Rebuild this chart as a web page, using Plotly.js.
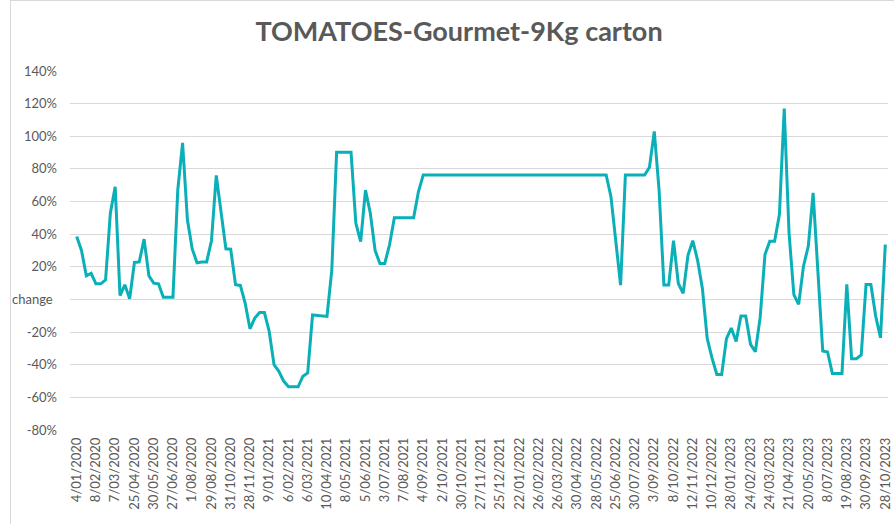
<!DOCTYPE html>
<html>
<head>
<meta charset="utf-8">
<script src="https://cdn.plot.ly/plotly-3.0.1.min.js"></script>
<style>
  html, body { margin: 0; padding: 0; background: #fff; overflow: hidden; }
  #chart { position: absolute; left: 0; top: 0; width: 894px; height: 524px; }
  #frame { position: absolute; left: 10px; top: 0px; width: 1000px; height: 1000px;
           border-left: 1px solid #d9d9d9; border-top: 1px solid #d9d9d9; pointer-events: none; }
</style>
</head>
<body>
<div id="chart"></div>
<div id="frame"></div>
<script>
// Tick labels of the category (date) axis: every 4th weekly observation
const dateLabels = [
  "4/01/2020","8/02/2020","7/03/2020","25/04/2020","30/05/2020","27/06/2020","1/08/2020",
  "29/08/2020","31/10/2020","28/11/2020","9/01/2021","6/02/2021","6/03/2021","10/04/2021",
  "8/05/2021","5/06/2021","3/07/2021","7/08/2021","4/09/2021","2/10/2021","30/10/2021",
  "27/11/2021","25/12/2021","22/01/2022","26/02/2022","26/03/2022","30/04/2022","28/05/2022",
  "25/06/2022","30/07/2022","3/09/2022","8/10/2022","12/11/2022","10/12/2022","28/01/2023",
  "24/02/2023","24/03/2023","21/04/2023","20/05/2023","8/07/2023","19/08/2023","30/09/2023",
  "28/10/2023"
];

// Weekly change values (%)
const changeValues = [
  38.6, 30, 14.5, 16, 9.6, 9.6, 12, 53, 69, 2.4,
  9, 0.4, 22.7, 23, 37, 14.5, 10, 9.6, 1.4, 1.4,
  1.4, 67, 96, 49, 31, 22.5, 23, 23, 36, 76,
  53, 31, 30.8, 9, 8.6, -2.2, -18, -11.4, -8, -8,
  -19.6, -40, -44, -50, -53.5, -53.5, -53.5, -47, -45, -9.5,
  -9.8, -10, -10.4, 18, 90.2, 90.2, 90.2, 90.2, 46.7, 35.5,
  67, 53, 30, 22, 22, 33.5, 50, 50, 50, 50,
  50, 66, 76.3, 76.3, 76.3, 76.3, 76.3, 76.3, 76.3, 76.3,
  76.3, 76.3, 76.3, 76.3, 76.3, 76.3, 76.3, 76.3, 76.3, 76.3,
  76.3, 76.3, 76.3, 76.3, 76.3, 76.3, 76.3, 76.3, 76.3, 76.3,
  76.3, 76.3, 76.3, 76.3, 76.3, 76.3, 76.3, 76.3, 76.3, 76.3,
  76.3, 63, 36, 8.8, 76.3, 76.3, 76.3, 76.3, 76.3, 81,
  103, 67, 8.8, 8.8, 36, 9.8, 3.7, 27, 36, 24,
  6.7, -24, -36, -46, -46, -24, -17.5, -25.8, -10.2, -10.2,
  -27.5, -32, -11, 27.5, 35.7, 35.7, 52, 117, 40.8, 3,
  -3, 20.4, 32.6, 65.3, 16, -31.6, -32.2, -45.3, -45.3, -45.3,
  9.2, -36.3, -36.3, -34, 9.2, 9.2, -10.2, -23.5, 33.7
];

const yTickValues = [-80, -60, -40, -20, 0, 20, 40, 60, 80, 100, 120, 140];
const yTickLabels = ["-80%","-60%","-40%","-20%","","20%","40%","60%","80%","100%","120%","140%"];
const labelStep = 4;

const weekIndex = changeValues.map((_, i) => i);
const xTickValues = dateLabels.map((_, k) => k * labelStep);

const fontFamily = "Lato, 'Open Sans', 'Liberation Sans', sans-serif";
const textColor = "#595959";

const trace = {
  type: "scatter",
  mode: "lines",
  x: weekIndex,
  y: changeValues,
  line: { color: "#0AAFB8", width: 3 },
  hoverinfo: "skip"
};

const layout = {
  width: 894,
  height: 524,
  margin: { l: 70, r: 6, t: 71, b: 94, pad: 0 },
  paper_bgcolor: "rgba(0,0,0,0)",
  plot_bgcolor: "#ffffff",
  showlegend: false,
  font: { family: fontFamily, size: 13, color: textColor },
  title: {
    text: "TOMATOES-Gourmet-9Kg carton",
    font: { family: fontFamily, size: 27, color: textColor, weight: "bold" },
    xref: "container", yref: "container",
    x: 459 / 894, xanchor: "center",
    y: 1 - 32 / 524, yanchor: "middle"
  },
  xaxis: {
    range: [-1.39, 168.56],
    tickmode: "array",
    tickvals: xTickValues,
    ticktext: dateLabels,
    tickangle: -90,
    ticks: "",
    showgrid: false,
    zeroline: false,
    showline: false,
    ticklabelstandoff: 4,
    tickfont: { family: fontFamily, size: 13, color: textColor },
    fixedrange: true
  },
  yaxis: {
    range: [-80, 140],
    tickmode: "array",
    tickvals: yTickValues,
    ticktext: yTickLabels,
    ticks: "",
    showgrid: true,
    gridcolor: "#d9d9d9",
    gridwidth: 1,
    zeroline: false,
    showline: false,
    ticklabelstandoff: 12,
    tickfont: { family: fontFamily, size: 13, color: textColor },
    fixedrange: true
  },
  annotations: [{
    text: "change",
    xref: "paper", yref: "y",
    x: (55 - 70) / 818, y: 0,
    xanchor: "right", yanchor: "middle",
    showarrow: false,
    font: { family: fontFamily, size: 13, color: textColor }
  }]
};

Plotly.newPlot("chart", [trace], layout, { displayModeBar: false, staticPlot: true });
</script>
</body>
</html>
